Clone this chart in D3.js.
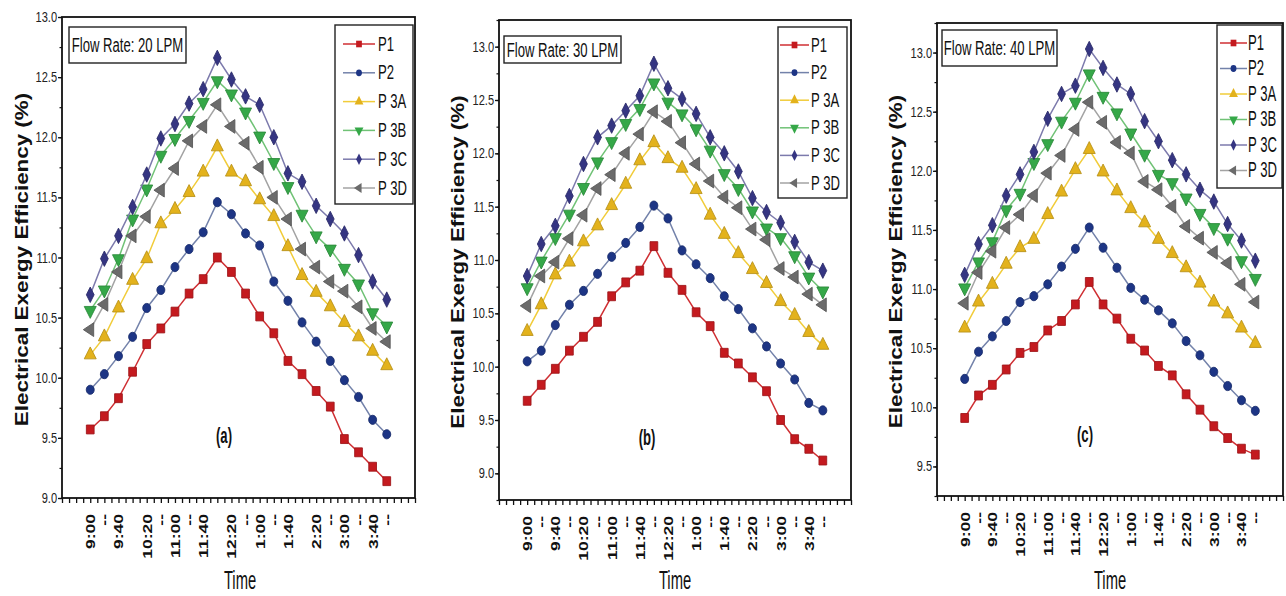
<!DOCTYPE html>
<html>
<head>
<meta charset="utf-8">
<script src="https://cdn.jsdelivr.net/npm/d3@7"></script>
<style>
  body { margin: 0; background: #fff; }
  svg { display: block; }
</style>
</head>
<body>
<script>
// time slots, every 20 minutes from 9:00 to 4:00
const times = ["9:00","9:20","9:40","10:00","10:20","10:40","11:00","11:20","11:40","12:00","12:20",
               "12:40","1:00","1:20","1:40","2:00","2:20","2:40","3:00","3:20","3:40","4:00"];
const tickLabelsA = ["9:00","--","9:40","","10:20","--","11:00","--","11:40","","12:20",
                     "--","1:00","--","1:40","","2:20","--","3:00","--","3:40","--"];
const tickLabelsBC = ["9:00","--","9:40","--","10:20","--","11:00","--","11:40","--","12:20",
                      "--","1:00","--","1:40","--","2:20","--","3:00","--","3:40","--"];

const seriesNames = ["P1", "P2", "P 3A", "P 3B", "P 3C", "P 3D"];
const markerColors = ["#c41a1f", "#1d3585", "#e3b21c", "#35a848", "#353582", "#6b6b6b"];
const lineColors = ["#cf2f33", "#7382aa", "#f1cc3a", "#70c276", "#7c7aac", "#a3a3a3"];

// Flow rate 20 LPM, order as seriesNames
const flow20 = [
  [9.57,9.68,9.83,10.05,10.28,10.41,10.55,10.70,10.82,11.00,10.88,10.70,10.51,10.37,10.14,10.03,9.89,9.76,9.49,9.38,9.26,9.14],
  [9.90,10.03,10.18,10.34,10.58,10.73,10.92,11.07,11.21,11.46,11.36,11.20,11.10,10.80,10.64,10.46,10.30,10.14,9.98,9.84,9.65,9.53],
  [10.19,10.34,10.58,10.81,10.99,11.28,11.40,11.54,11.71,11.92,11.71,11.63,11.48,11.34,11.09,10.85,10.71,10.59,10.46,10.34,10.22,10.10],
  [10.56,10.73,10.99,11.32,11.57,11.85,11.99,12.14,12.29,12.47,12.36,12.21,12.01,11.79,11.59,11.36,11.18,11.07,10.91,10.78,10.54,10.43],
  [10.69,10.99,11.18,11.42,11.69,11.99,12.11,12.28,12.40,12.66,12.48,12.34,12.27,12.00,11.70,11.63,11.43,11.32,11.20,11.02,10.80,10.65],
  [10.40,10.61,10.88,11.18,11.34,11.56,11.74,11.97,12.09,12.27,12.09,11.95,11.75,11.50,11.32,11.07,10.92,10.80,10.72,10.59,10.41,10.30]
];
// Flow rate 30 LPM
const flow30 = [
  [9.68,9.83,9.98,10.15,10.28,10.42,10.66,10.79,10.90,11.13,10.88,10.72,10.51,10.38,10.13,10.03,9.90,9.77,9.50,9.32,9.23,9.12],
  [10.05,10.15,10.39,10.58,10.71,10.87,11.03,11.16,11.31,11.51,11.39,11.09,10.96,10.83,10.66,10.54,10.36,10.19,10.03,9.88,9.66,9.59],
  [10.33,10.58,10.86,10.98,11.17,11.32,11.51,11.71,11.93,12.10,11.95,11.86,11.66,11.42,11.24,11.06,10.91,10.78,10.61,10.48,10.32,10.20],
  [10.74,10.99,11.21,11.43,11.68,11.92,12.11,12.28,12.42,12.66,12.48,12.37,12.23,12.03,11.81,11.67,11.46,11.30,11.21,11.04,10.84,10.71],
  [10.85,11.15,11.32,11.60,11.90,12.15,12.26,12.40,12.54,12.84,12.61,12.51,12.37,12.15,12.00,11.83,11.58,11.45,11.35,11.17,10.98,10.90],
  [10.57,10.85,10.98,11.20,11.42,11.67,11.80,12.00,12.18,12.39,12.30,12.10,11.90,11.74,11.59,11.49,11.29,11.19,10.92,10.84,10.68,10.58]
];
// Flow rate 40 LPM
const flow40 = [
  [9.91,10.10,10.19,10.32,10.46,10.51,10.65,10.73,10.87,11.06,10.87,10.75,10.58,10.48,10.35,10.27,10.11,9.98,9.84,9.74,9.65,9.60],
  [10.24,10.47,10.60,10.73,10.89,10.94,11.04,11.19,11.34,11.52,11.35,11.18,11.01,10.91,10.82,10.71,10.56,10.44,10.30,10.18,10.06,9.97],
  [10.67,10.89,11.04,11.21,11.35,11.42,11.63,11.82,12.01,12.18,11.99,11.83,11.68,11.56,11.42,11.30,11.18,11.05,10.89,10.79,10.67,10.54],
  [11.01,11.23,11.40,11.67,11.81,12.07,12.23,12.42,12.58,12.82,12.63,12.49,12.32,12.14,11.97,11.90,11.77,11.64,11.52,11.43,11.24,11.09],
  [11.12,11.38,11.54,11.79,11.97,12.16,12.44,12.65,12.72,13.03,12.87,12.73,12.65,12.42,12.25,12.09,11.97,11.84,11.74,11.55,11.41,11.24],
  [10.88,11.14,11.32,11.52,11.63,11.79,11.98,12.13,12.35,12.58,12.41,12.24,12.15,11.91,11.84,11.70,11.53,11.43,11.31,11.22,11.04,10.89]
];

const flowLabels = ["Flow Rate: 20 LPM", "Flow Rate: 30 LPM", "Flow Rate: 40 LPM"];
const panelTags = ["(a)", "(b)", "(c)"];
const yDomains = [[9, 13], [8.75, 13.25], [9.25, 13.25]];
const yTickSets = [
  [9.0, 9.5, 10.0, 10.5, 11.0, 11.5, 12.0, 12.5, 13.0],
  [9.0, 9.5, 10.0, 10.5, 11.0, 11.5, 12.0, 12.5, 13.0],
  [9.5, 10.0, 10.5, 11.0, 11.5, 12.0, 12.5, 13.0]
];

const SANS = "'Liberation Sans',Arial,sans-serif";
const NARROW_X = 0.82; // horizontal squeeze standing in for a narrow face

const width = 1286, height = 596;
const svg = d3.select("body").append("svg").attr("width", width).attr("height", height);

// layout of each panel (pixels)
const panels = [
  {data: flow20, ticks: tickLabelsA, left: 62, right: 415, top: 17, bottom: 498, ylab: 28, tagX: 224, tagY: 443, timeX: 240,
   flow: [69, 27, 117, 36],
   leg: {x: 335, y: 25, w: 78, h: 179, l1: 343, l2: 375, tx: 378, y0: 44, step: 28.8, sy: 1.25}},
  {data: flow30, ticks: tickLabelsBC, left: 499, right: 851, top: 20, bottom: 500, ylab: 464, tagX: 647, tagY: 445, timeX: 675,
   flow: [504, 36, 117, 27],
   leg: {x: 778, y: 27, w: 69, h: 171, l1: 780, l2: 809, tx: 811, y0: 45, step: 27.6, sy: 1.3}},
  {data: flow40, ticks: tickLabelsBC, left: 937, right: 1283, top: 23, bottom: 496, ylab: 902, tagX: 1085, tagY: 442, timeX: 1110,
   flow: [942, 30, 115, 36],
   leg: {x: 1217, y: 25, w: 65, h: 163, l1: 1220, l2: 1247, tx: 1248, y0: 43, step: 25.5, sy: 1.4}}
];

const symbolTypes = [d3.symbolSquare, d3.symbolCircle, d3.symbolTriangle, d3.symbolTriangle, d3.symbolDiamond, d3.symbolTriangle];
const symbolRot = [0, 0, 0, 180, 0, -90];
const symbolSize = [60, 50, 62, 62, 52, 62];

// text with an optional stretch, to mimic the tall glyphs of the figure
function addText(g, x, y, str, o) {
  return g.append("text")
    .attr("transform", `translate(${x},${y}) rotate(${o.rot || 0}) scale(${o.sx || 1},${o.sy || 1})`)
    .attr("text-anchor", o.anchor || "start")
    .attr("font-family", SANS)
    .attr("font-size", o.size)
    .attr("font-weight", o.weight || "normal")
    .attr("fill", "#111")
    .text(str);
}

panels.forEach((p, k) => {
  const g = svg.append("g");
  const x = d3.scaleLinear().domain([-2, 23]).range([p.left, p.right]);
  const y = d3.scaleLinear().domain(yDomains[k]).range([p.bottom, p.top]);

  // x ticks (every half slot) and labels
  g.append("g").attr("transform", `translate(0,${p.bottom})`)
    .call(d3.axisBottom(x).tickValues(d3.range(-2, 23.01, 0.5)).tickSize(5).tickSizeOuter(0).tickFormat(""))
    .call(a => a.select(".domain").remove())
    .call(a => a.selectAll("line").attr("stroke", "#111").attr("stroke-width", 1.3));

  g.append("g").attr("transform", `translate(0,${p.bottom})`)
    .call(d3.axisBottom(x).tickValues(d3.range(times.length)).tickSize(0).tickFormat(i => p.ticks[i]))
    .call(a => a.select(".domain").remove())
    .call(a => a.selectAll("text")
      .attr("x", null).attr("y", null).attr("dy", null)
      .attr("transform", "translate(4.5,16) rotate(-90) scale(1.35,1)")
      .attr("text-anchor", "end")
      .attr("font-family", SANS).attr("font-weight", "bold").attr("font-size", 13).attr("fill", "#111"));

  // y ticks
  const minor = d3.range(yDomains[k][0], yDomains[k][1] + 0.001, 0.25);
  g.append("g").attr("transform", `translate(${p.left},0)`)
    .call(d3.axisLeft(y).tickValues(minor).tickSize(2.5).tickFormat(""))
    .call(a => a.select(".domain").remove())
    .call(a => a.selectAll("line").attr("stroke", "#111").attr("stroke-width", 1.2));
  g.append("g").attr("transform", `translate(${p.left},0)`)
    .call(d3.axisLeft(y).tickValues(yTickSets[k]).tickSize(4).tickPadding(2).tickFormat(d3.format(".1f")))
    .call(a => a.select(".domain").remove())
    .call(a => a.selectAll("line").attr("stroke", "#111").attr("stroke-width", 1.3))
    .call(a => a.selectAll("text")
      .attr("transform", `scale(${NARROW_X},1.05)`)
      .attr("font-family", SANS).attr("font-size", 13.5).attr("fill", "#222"));

  // series
  const line = d3.line().x((d, i) => x(i)).y(d => y(d));
  p.data.forEach((vals, s) => {
    g.append("path").datum(vals)
      .attr("d", line).attr("fill", "none")
      .attr("stroke", lineColors[s]).attr("stroke-width", 1.5);
    g.selectAll(null).data(vals).enter().append("path")
      .attr("d", d3.symbol().type(symbolTypes[s]).size(symbolSize[s]))
      .attr("transform", (d, i) => `translate(${x(i)},${y(d)}) scale(1,1.15) rotate(${symbolRot[s]})`)
      .attr("fill", markerColors[s])
      .attr("stroke", d3.color(markerColors[s]).darker(0.6))
      .attr("stroke-width", 0.8);
  });

  // frame
  g.append("rect")
    .attr("x", p.left).attr("y", p.top)
    .attr("width", p.right - p.left).attr("height", p.bottom - p.top)
    .attr("fill", "none").attr("stroke", "#111").attr("stroke-width", 1.8);

  // flow rate box
  g.append("rect")
    .attr("x", p.flow[0]).attr("y", p.flow[1]).attr("width", p.flow[2]).attr("height", p.flow[3])
    .attr("fill", "#fff").attr("stroke", "#222").attr("stroke-width", 1.4);
  addText(g, p.flow[0] + p.flow[2] / 2, p.flow[1] + p.flow[3] / 2 + 7, flowLabels[k],
    {anchor: "middle", size: 16, sx: NARROW_X, sy: 1.3});

  // legend
  const L = p.leg;
  g.append("rect")
    .attr("x", L.x).attr("y", L.y).attr("width", L.w).attr("height", L.h)
    .attr("fill", "#fff").attr("stroke", "#222").attr("stroke-width", 1.4);
  seriesNames.forEach((name, s) => {
    const ly = L.y0 + s * L.step;
    g.append("line")
      .attr("x1", L.l1).attr("x2", L.l2).attr("y1", ly).attr("y2", ly)
      .attr("stroke", lineColors[s]).attr("stroke-width", 1.5);
    g.append("path")
      .attr("d", d3.symbol().type(symbolTypes[s]).size(symbolSize[s] * 0.55))
      .attr("transform", `translate(${(L.l1 + L.l2) / 2},${ly}) scale(1,1.15) rotate(${symbolRot[s]})`)
      .attr("fill", markerColors[s]);
    addText(g, L.tx, ly + 6.5, name, {size: 16, sx: NARROW_X, sy: L.sy});
  });

  // panel tag, axis titles
  addText(g, p.tagX, p.tagY, panelTags[k], {anchor: "middle", size: 16, weight: "bold", sx: NARROW_X, sy: 1.35});
  addText(g, p.timeX, 589, "Time", {anchor: "middle", size: 18, sx: NARROW_X, sy: 1.45});
  addText(g, p.ylab, (p.top + p.bottom) / 2 + 2, "Electrical Exergy Efficiency (%)",
    {anchor: "middle", size: 17.5, weight: "bold", rot: -90, sx: 1.28});
});
</script>
</body>
</html>
